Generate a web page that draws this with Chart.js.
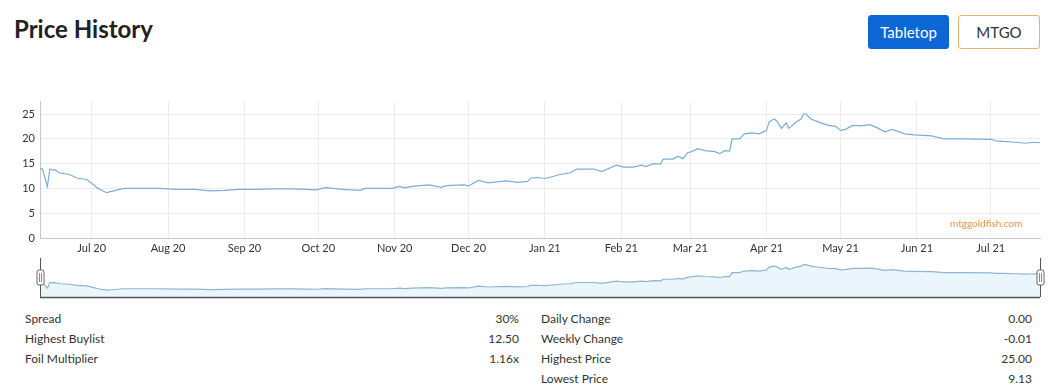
<!DOCTYPE html>
<html>
<head>
<meta charset="utf-8">
<title>Price History</title>
<script src="https://cdn.jsdelivr.net/npm/chart.js@4/dist/chart.umd.min.js"></script>
<style>
  body { margin: 0; width: 1052px; height: 385px; overflow: hidden; background: #fff;
         font-family: Lato, "Open Sans", sans-serif; color: #333; position: relative; }
  h1 { position: absolute; left: 14px; top: 14px; margin: 0; font-size: 24px; font-weight: 700; color: #222; }
  .btn { position: absolute; top: 15px; height: 34px; box-sizing: border-box; border-radius: 3px;
         font-size: 15px; line-height: 32px; text-align: center; }
  #tabletop { left: 868px; width: 81px; background: #0b67d6; color: #fff; border: 1px solid #0b67d6; }
  #mtgo { left: 958px; width: 82px; border: 1px solid #e2b46a; color: #333; background: #fff; }
  #main { position: absolute; left: 0; top: 90px; }
  #mini { position: absolute; left: 0; top: 255px; }
  .wm { position: absolute; left: 950px; top: 217px; font-size: 10px; color: #e8944a; }
  table.stats { position: absolute; top: 308px; border-collapse: collapse; font-size: 12px; color: #333; }
  table.stats td { height: 20px; padding: 0; white-space: nowrap; }
  table.stats td.v { text-align: right; }
</style>
</head>
<body>
<h1>Price History</h1>
<div class="btn" id="tabletop">Tabletop</div>
<div class="btn" id="mtgo">MTGO</div>

<canvas id="main" width="1052" height="170"></canvas>
<div class="wm">mtggoldfish.com</div>
<canvas id="mini" width="1052" height="45"></canvas>

<table class="stats" style="left:25px; width:494px">
  <tr><td>Spread</td><td class="v">30%</td></tr>
  <tr><td>Highest Buylist</td><td class="v">12.50</td></tr>
  <tr><td>Foil Multiplier</td><td class="v">1.16x</td></tr>
</table>
<table class="stats" style="left:541px; width:491px">
  <tr><td>Daily Change</td><td class="v">0.00</td></tr>
  <tr><td>Weekly Change</td><td class="v">-0.01</td></tr>
  <tr><td>Highest Price</td><td class="v">25.00</td></tr>
  <tr><td>Lowest Price</td><td class="v">9.13</td></tr>
</table>

<script>
// prices (tabletop, USD)
const dates = [
  '2020-06-10','2020-06-11','2020-06-13','2020-06-14','2020-06-15','2020-06-16','2020-06-18','2020-06-22',
  '2020-06-25','2020-06-29','2020-07-01','2020-07-02','2020-07-03','2020-07-07','2020-07-09','2020-07-14',
  '2020-07-20','2020-07-28','2020-08-05','2020-08-12','2020-08-18','2020-08-24','2020-08-30','2020-09-05',
  '2020-09-12','2020-09-20','2020-09-26','2020-09-30','2020-10-04','2020-10-11','2020-10-18','2020-10-20',
  '2020-10-31','2020-11-03','2020-11-05','2020-11-08','2020-11-15','2020-11-20','2020-11-22','2020-11-29',
  '2020-12-01','2020-12-05','2020-12-09','2020-12-16','2020-12-21','2020-12-25','2020-12-26','2020-12-29',
  '2021-01-01','2021-01-05','2021-01-07','2021-01-11','2021-01-14','2021-01-21','2021-01-24','2021-01-30',
  '2021-02-02','2021-02-06','2021-02-09','2021-02-11','2021-02-14','2021-02-17','2021-02-18','2021-02-22',
  '2021-02-24','2021-02-26','2021-02-28','2021-03-02','2021-03-04','2021-03-07','2021-03-11','2021-03-13',
  '2021-03-15','2021-03-17','2021-03-18','2021-03-21','2021-03-23','2021-03-26','2021-03-29','2021-04-01',
  '2021-04-02','2021-04-04','2021-04-05','2021-04-07','2021-04-09','2021-04-10','2021-04-13','2021-04-15',
  '2021-04-16','2021-04-17','2021-04-19','2021-04-23','2021-04-26','2021-04-29','2021-05-01','2021-05-03',
  '2021-05-06','2021-05-09','2021-05-13','2021-05-16','2021-05-19','2021-05-22','2021-05-27','2021-05-31',
  '2021-06-07','2021-06-12','2021-06-20','2021-07-01','2021-07-03','2021-07-06','2021-07-11','2021-07-15',
  '2021-07-19','2021-07-21'
];
const prices = [
  14.0, 13.9, 10.35, 13.9, 13.7, 13.8, 13.1, 12.8,
  12.1, 11.8, 11.0, 10.7, 10.15, 9.13, 9.4, 10.0,
  10.0, 10.0, 9.8, 9.8, 9.5, 9.6, 9.8, 9.8,
  9.9, 9.9, 9.8, 9.7, 10.15, 9.8, 9.6, 10.0,
  10.0, 10.4, 10.1, 10.4, 10.7, 10.2, 10.55, 10.7,
  10.5, 11.6, 11.1, 11.5, 11.2, 11.4, 12.05, 12.2,
  12.0, 12.5, 12.8, 13.1, 13.9, 13.9, 13.4, 14.7,
  14.3, 14.3, 14.7, 14.4, 15.0, 14.9, 15.9, 15.9,
  16.5, 16.0, 17.2, 17.5, 18.0, 17.6, 17.4, 17.0,
  17.6, 17.5, 20.0, 20.0, 21.0, 21.2, 21.0, 21.7,
  23.4, 24.0, 23.7, 22.1, 23.2, 22.1, 23.4, 24.0,
  25.0, 25.0, 24.0, 23.2, 22.7, 22.5, 21.7, 21.9,
  22.7, 22.6, 22.85, 22.2, 21.4, 21.9, 21.0, 20.8,
  20.6, 20.0, 20.0, 19.9, 19.6, 19.5, 19.3, 19.1,
  19.3, 19.2
];
const xTickDates = ['2020-07-01','2020-08-01','2020-09-01','2020-10-01','2020-11-01','2020-12-01',
                    '2021-01-01','2021-02-01','2021-03-01','2021-04-01','2021-05-01','2021-06-01','2021-07-01'];
const xTickLabels = ['Jul 20','Aug 20','Sep 20','Oct 20','Nov 20','Dec 20',
                     'Jan 21','Feb 21','Mar 21','Apr 21','May 21','Jun 21','Jul 21'];
const yTicks = [0, 5, 10, 15, 20, 25];

const toDay = s => Date.parse(s + 'T00:00:00Z') / 86400000;
const points = dates.map((d, i) => ({ x: toDay(d), y: prices[i] }));
const xMin = toDay(dates[0]), xMax = toDay(dates[dates.length - 1]);
const tickDays = xTickDates.map(toDay);

const lineColor = '#7aaed8';
const font = { family: 'Lato', size: 11 };

new Chart(document.getElementById('main'), {
  type: 'line',
  data: { datasets: [{ data: points, borderColor: lineColor, borderWidth: 1.2, pointRadius: 0, tension: 0, fill: false }] },
  options: {
    responsive: false, animation: false, events: [],
    layout: { padding: { left: 0, right: 12, top: 7, bottom: 0 } },
    plugins: { legend: { display: false }, tooltip: { enabled: false } },
    scales: {
      x: {
        type: 'linear', min: xMin, max: xMax,
        afterFit: s => { s.height = 22; },
        afterBuildTicks: s => { s.ticks = tickDays.map(v => ({ value: v })); },
        grid: { color: '#ececec', drawTicks: false },
        border: { color: '#c8c8c8' },
        ticks: { autoSkip: false, maxRotation: 0, padding: 4, color: '#333', font,
                 callback: (v, i) => xTickLabels[i] }
      },
      y: {
        min: 0, max: 27.5,
        afterFit: s => { s.width = 40; },
        afterBuildTicks: s => { s.ticks = yTicks.map(v => ({ value: v })); },
        grid: { color: '#ececec', drawTicks: false },
        border: { color: '#c8c8c8' },
        ticks: { padding: 5, color: '#333', font }
      }
    }
  }
});

// range selector: frame and the two drag handles
const handles = {
  id: 'handles',
  afterDraw(c) {
    const { ctx, chartArea: a } = c;
    ctx.save();
    ctx.strokeStyle = '#555';
    ctx.lineWidth = 1.5;
    ctx.beginPath();
    ctx.moveTo(a.left, a.bottom + 0.5);
    ctx.lineTo(a.right, a.bottom + 0.5);
    ctx.stroke();
    [a.left, a.right].forEach(x => {
      ctx.lineWidth = 1;
      ctx.strokeStyle = '#555';
      ctx.beginPath();
      ctx.moveTo(x + 0.5, 3);
      ctx.lineTo(x + 0.5, a.bottom);
      ctx.stroke();
      ctx.fillStyle = '#fff';
      ctx.strokeStyle = '#666';
      ctx.beginPath();
      ctx.roundRect(x - 3, 15, 7, 15, 2);
      ctx.fill();
      ctx.stroke();
      ctx.strokeStyle = '#888';
      ctx.beginPath();
      ctx.moveTo(x - 0.5, 18); ctx.lineTo(x - 0.5, 27);
      ctx.moveTo(x + 1.5, 18); ctx.lineTo(x + 1.5, 27);
      ctx.stroke();
    });
    ctx.restore();
  }
};

new Chart(document.getElementById('mini'), {
  type: 'line',
  data: { datasets: [{ data: points, borderColor: '#8fb5d2', borderWidth: 1.2, pointRadius: 0,
                       fill: 'start', backgroundColor: '#ebf5fc' }] },
  options: {
    responsive: false, animation: false, events: [],
    layout: { padding: { left: 40, right: 12, top: 7, bottom: 3 } },
    plugins: { legend: { display: false }, tooltip: { enabled: false } },
    scales: {
      x: { type: 'linear', min: xMin, max: xMax, display: false },
      y: { min: 4.9, max: 26.6, display: false }
    }
  },
  plugins: [handles]
});
</script>
</body>
</html>
